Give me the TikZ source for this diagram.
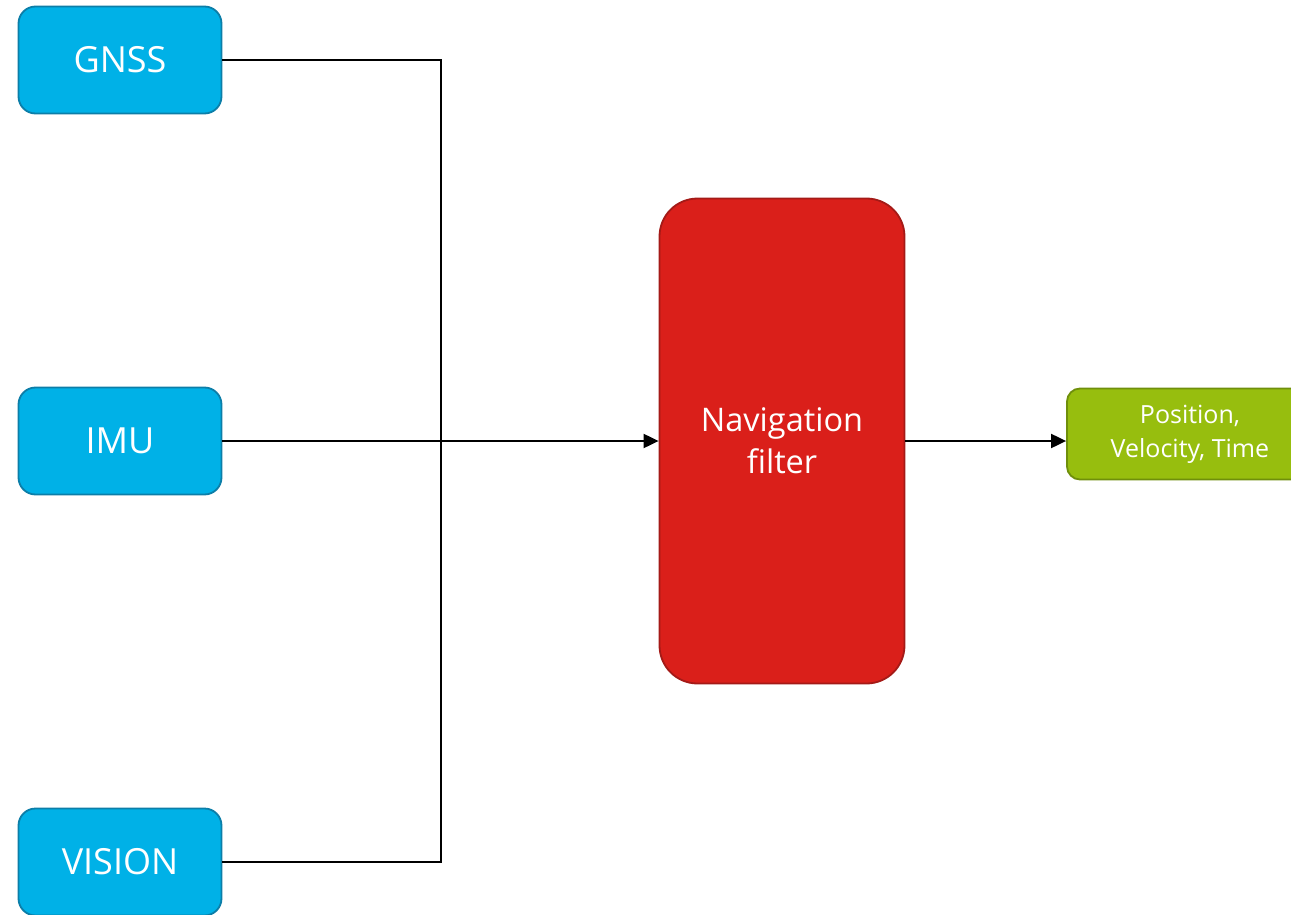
\documentclass[tikz,border=0pt]{standalone}
\usepackage{fontspec}
\setmainfont{Open Sans}
\usetikzlibrary{arrows.meta}
\definecolor{srcfill}{HTML}{00B1E7}
\definecolor{srcline}{HTML}{0C7EA8}
\definecolor{navfill}{HTML}{DA1F1A}
\definecolor{navline}{HTML}{A41A17}
\definecolor{outfill}{HTML}{97BE0E}
\definecolor{outline}{HTML}{6F8F0B}
\tikzset{
  srcbox/.style={draw=srcline, fill=srcfill, line width=1.8pt, rounded corners=17pt,
    minimum width=203pt, minimum height=107pt, text=white, font=\fontsize{36}{40}\selectfont, inner sep=0pt},
  navbox/.style={draw=navline, fill=navfill, line width=1.8pt, rounded corners=38pt,
    minimum width=245pt, minimum height=485pt, text=white, align=center,
    font=\fontsize{32.5}{42}\selectfont, inner sep=0pt},
  outbox/.style={draw=outline, fill=outfill, line width=1.8pt, rounded corners=13pt,
    minimum width=246pt, minimum height=91pt, text=white, align=center,
    font=\fontsize{25}{34}\selectfont, inner sep=0pt},
  wire/.style={line width=2pt, black},
  arrowwire/.style={wire, -{Triangle[length=15pt,width=14pt]}},
}
\begin{document}
\begin{tikzpicture}[x=1pt,y=-1pt]
  \useasboundingbox (0,0) rectangle (1291,915);
  \node[srcbox] (gnss) at (120,60) {GNSS};
  \node[srcbox] (imu) at (120,441) {IMU};
  \node[srcbox] (vision) at (120,862) {VISION};
  \node[navbox] (nav) at (782,441) {Navigation\\filter};
  \node[outbox] (out) at (1190,434) {Position,\\Velocity, Time};
  \coordinate (bus) at (441,441);
  \draw[wire] (gnss.east) -| (bus);
  \draw[wire] (vision.east) -| (bus);
  \draw[arrowwire] (imu.east) -- (nav.west);
  \draw[arrowwire] (nav.east) -- (nav.east -| out.west);
\end{tikzpicture}
\end{document}
